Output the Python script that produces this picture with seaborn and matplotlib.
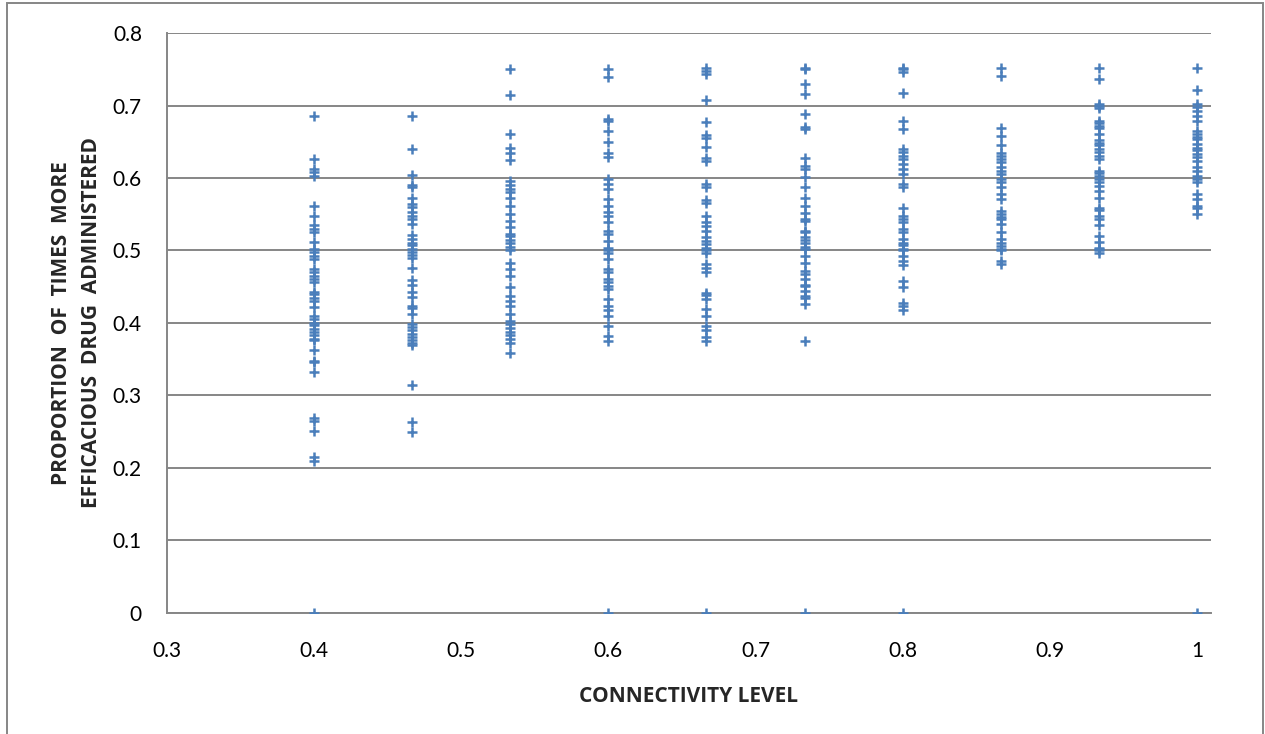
import pandas as pd
import seaborn as sns
import matplotlib.pyplot as plt
from matplotlib.patches import Rectangle

# connectivity levels (k/15)
levels = [6/15, 7/15, 8/15, 9/15, 10/15, 11/15, 12/15, 13/15, 14/15, 15/15]

c040 = [0.686, 0.626, 0.613, 0.608, 0.603, 0.561, 0.548, 0.535, 0.530, 0.525, 0.512,
        0.502, 0.498, 0.493, 0.488, 0.475, 0.470, 0.465, 0.460, 0.456, 0.443, 0.440,
        0.435, 0.430, 0.422, 0.410, 0.405, 0.400, 0.397, 0.392, 0.388, 0.383, 0.378,
        0.376, 0.363, 0.348, 0.346, 0.332, 0.269, 0.265, 0.251, 0.215, 0.210, 0.0]
c047 = [0.685, 0.640, 0.604, 0.591, 0.587, 0.573, 0.564, 0.560, 0.553, 0.548, 0.544,
        0.537, 0.521, 0.516, 0.510, 0.507, 0.502, 0.498, 0.494, 0.489, 0.476, 0.459,
        0.452, 0.443, 0.436, 0.424, 0.420, 0.413, 0.399, 0.395, 0.390, 0.385, 0.380,
        0.376, 0.373, 0.369, 0.314, 0.263, 0.250]
c053 = [0.750, 0.715, 0.661, 0.641, 0.635, 0.625, 0.596, 0.590, 0.585, 0.580, 0.573,
        0.562, 0.550, 0.541, 0.532, 0.523, 0.520, 0.515, 0.510, 0.505, 0.500, 0.483,
        0.474, 0.465, 0.450, 0.437, 0.430, 0.424, 0.412, 0.403, 0.398, 0.393, 0.388,
        0.383, 0.378, 0.373, 0.359]
c060 = [0.750, 0.740, 0.682, 0.679, 0.665, 0.650, 0.635, 0.629, 0.599, 0.592, 0.585,
        0.571, 0.562, 0.553, 0.548, 0.539, 0.527, 0.523, 0.513, 0.504, 0.500, 0.497,
        0.488, 0.474, 0.470, 0.460, 0.456, 0.451, 0.447, 0.433, 0.424, 0.418, 0.410,
        0.396, 0.382, 0.375, 0.0]
c067 = [0.752, 0.748, 0.743, 0.708, 0.677, 0.659, 0.655, 0.643, 0.627, 0.624, 0.592,
        0.588, 0.569, 0.566, 0.548, 0.539, 0.534, 0.527, 0.518, 0.513, 0.509, 0.504,
        0.500, 0.497, 0.481, 0.476, 0.470, 0.442, 0.438, 0.433, 0.419, 0.410, 0.396,
        0.390, 0.381, 0.375, 0.0]
c073 = [0.752, 0.750, 0.730, 0.716, 0.688, 0.670, 0.668, 0.627, 0.617, 0.613, 0.601,
        0.587, 0.573, 0.562, 0.552, 0.543, 0.541, 0.527, 0.525, 0.518, 0.514, 0.510,
        0.505, 0.502, 0.493, 0.483, 0.472, 0.467, 0.460, 0.453, 0.451, 0.444, 0.437,
        0.435, 0.426, 0.375, 0.0]
c080 = [0.752, 0.750, 0.746, 0.717, 0.678, 0.668, 0.640, 0.636, 0.631, 0.626, 0.619,
        0.612, 0.606, 0.592, 0.587, 0.559, 0.548, 0.543, 0.539, 0.529, 0.525, 0.516,
        0.511, 0.507, 0.502, 0.500, 0.493, 0.486, 0.480, 0.458, 0.449, 0.428, 0.424,
        0.418, 0.0]
c087 = [0.752, 0.741, 0.669, 0.658, 0.645, 0.635, 0.631, 0.626, 0.622, 0.615, 0.610,
        0.606, 0.599, 0.594, 0.587, 0.578, 0.571, 0.555, 0.550, 0.546, 0.543, 0.536,
        0.525, 0.516, 0.511, 0.506, 0.502, 0.500, 0.486, 0.481]
c093 = [0.752, 0.736, 0.702, 0.699, 0.696, 0.679, 0.676, 0.672, 0.669, 0.661, 0.652,
        0.648, 0.645, 0.640, 0.636, 0.631, 0.626, 0.610, 0.607, 0.603, 0.599, 0.594,
        0.589, 0.582, 0.573, 0.559, 0.556, 0.548, 0.543, 0.535, 0.520, 0.512, 0.504,
        0.502, 0.500, 0.497]
c100 = [0.752, 0.721, 0.702, 0.698, 0.692, 0.686, 0.679, 0.665, 0.661, 0.656, 0.654,
        0.647, 0.642, 0.638, 0.633, 0.629, 0.624, 0.615, 0.610, 0.603, 0.599, 0.594,
        0.578, 0.571, 0.562, 0.558, 0.550, 0.0]

columns = [c040, c047, c053, c060, c067, c073, c080, c087, c093, c100]

xs, ys = [], []
for lv, col in zip(levels, columns):
    xs += [lv] * len(col)
    ys += col
df = pd.DataFrame({"connectivity": xs, "proportion": ys})

sns.set_style("white")
plt.rcParams['font.family'] = ['Lato', 'DejaVu Sans']

fig = plt.figure(figsize=(12.65, 7.34), dpi=100)
ax = fig.add_axes([0.132, 0.165, 0.825, 0.790])

grid_c = '#868686'
ax.set_axisbelow(True)
ax.yaxis.grid(True, color=grid_c, linewidth=1.4)

sns.scatterplot(data=df, x="connectivity", y="proportion", marker='+', s=60,
                color='#4A7EBB', linewidth=1.8, ax=ax, legend=False, zorder=3)

ax.set_xlim(0.3, 1.0093)
ax.set_ylim(0, 0.8)
ax.set_xticks([0.3, 0.4, 0.5, 0.6, 0.7, 0.8, 0.9, 1.0])
ax.set_xticklabels(['0.3', '0.4', '0.5', '0.6', '0.7', '0.8', '0.9', '1'])
ax.set_yticks([0, 0.1, 0.2, 0.3, 0.4, 0.5, 0.6, 0.7, 0.8])
ax.set_yticklabels(['0', '0.1', '0.2', '0.3', '0.4', '0.5', '0.6', '0.7', '0.8'])

for s in ['top', 'right']:
    ax.spines[s].set_visible(False)
for s in ['left', 'bottom']:
    ax.spines[s].set_color(grid_c)
    ax.spines[s].set_linewidth(1.4)
ax.tick_params(axis='both', direction='out', length=6, width=1.2, color=grid_c,
               labelsize=15, labelcolor='black')
ax.tick_params(axis='x', pad=14)
ax.tick_params(axis='y', pad=12)

label_font = ['Liberation Sans Narrow', 'Open Sans', 'DejaVu Sans']
ax.set_xlabel('CONNECTIVITY LEVEL', fontsize=15, fontweight='bold',
              family=label_font, labelpad=18)
ax.set_ylabel('PROPORTION  OF  TIMES  MORE\nEFFICACIOUS  DRUG  ADMINISTERED',
              fontsize=15, fontweight='bold', family=label_font,
              labelpad=8, linespacing=1.55)

fig.patches.append(Rectangle((7 / 1265, -0.01), 1256 / 1265, 1 - 3 / 734 + 0.01,
                             transform=fig.transFigure, fill=False,
                             edgecolor=grid_c, linewidth=1.4))

fig.savefig('out.png', dpi=100)
